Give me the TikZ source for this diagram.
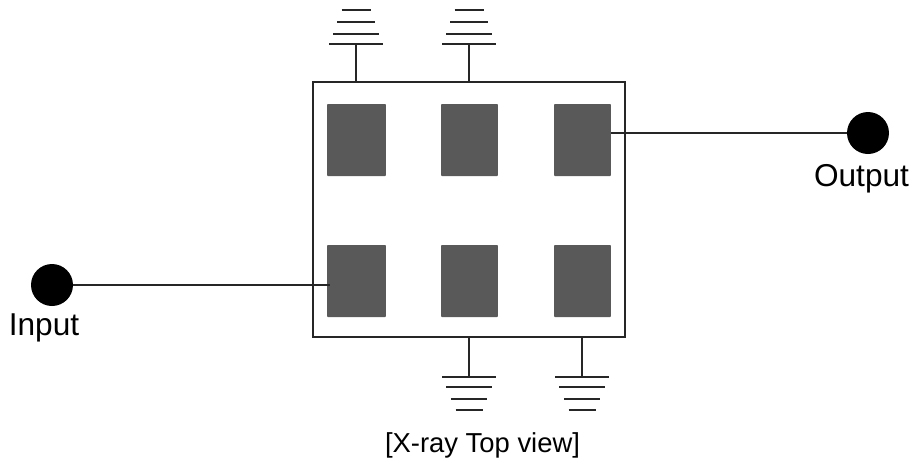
\documentclass[tikz,border=0pt]{standalone}
\usepackage{fontspec}
\setmainfont{Liberation Sans}
\usepackage{xcolor}
\usetikzlibrary{positioning}
\definecolor{padgray}{HTML}{595959}
\tikzset{%
	pad/.style={
		draw=none,
		fill=padgray,
		rounded corners=0.5pt,
		inner sep=0pt
	},
	port/.style={
		circle,
		fill=black,
		inner sep=0pt,
		minimum size=0.84cm
	},
	port text/.style={
		inner sep=0pt,
		font=\fontsize{18pt}{21pt}\selectfont
	},
	caption text/.style={
		inner sep=0pt,
		font=\fontsize{15.6pt}{18pt}\selectfont
	},
	wire/.style={
		line width=0.62pt,
		draw=black!85
	},
}

\begin{document}
\begin{tikzpicture}[x=0.02cm,y=-0.02cm]
		\useasboundingbox (0,0) rectangle (914,461);

		% Draw the package outline
		\node[wire,draw,inner sep=0pt,minimum width=6.24cm,minimum height=5.1cm] (chip) at (469,209.5) {};

		% Draw the pads
		\node[pad,minimum width=1.18cm,minimum height=1.44cm] (padA) at (356.5,140) {};
		\node[pad,minimum width=1.14cm,minimum height=1.44cm] (padB) at (469.5,140) {};
		\node[pad,minimum width=1.14cm,minimum height=1.44cm] (padC) at (582.5,140) {};
		\node[pad,minimum width=1.18cm,minimum height=1.44cm] (padD) at (356.5,281) {};
		\node[pad,minimum width=1.14cm,minimum height=1.44cm] (padE) at (469.5,281) {};
		\node[pad,minimum width=1.14cm,minimum height=1.44cm] (padF) at (582.5,281) {};

		% Draw the ports
		\node[port] (input) at (52,285) {};
		\node[port] (output) at (868,133) {};
		\node[port text] (inputlabel) at (44,328) {Input};
		\node[port text] (outputlabel) at (861.5,179) {Output};
		\node[caption text] (caption) at (482.5,445) {[X-ray Top view]};

		% Draw the wires
		\coordinate (inputend) at (330,285);
		\draw[wire] (input) -- (inputend);
		\coordinate (outputend) at (611,133);
		\draw[wire] (outputend) -- (output);

		% Draw the upper grounds
		\foreach \name/\gx in {gndA/356,gndB/469}{
			\coordinate (\name) at (\gx,44);
			\coordinate (\name top) at (\gx,82);
			\draw[wire] (\name top) -- (\name);
			\draw[wire] (\gx-27,44) -- (\gx+27,44);
			\draw[wire] (\gx-23,34) -- (\gx+23,34);
			\draw[wire] (\gx-19,22) -- (\gx+19,22);
			\draw[wire] (\gx-14.5,10) -- (\gx+14.5,10);
		}

		% Draw the lower grounds
		\foreach \name/\gx in {gndC/469,gndD/582}{
			\coordinate (\name) at (\gx,377);
			\coordinate (\name top) at (\gx,337);
			\draw[wire] (\name top) -- (\name);
			\draw[wire] (\gx-27,377) -- (\gx+27,377);
			\draw[wire] (\gx-23,387) -- (\gx+23,387);
			\draw[wire] (\gx-18,399) -- (\gx+18,399);
			\draw[wire] (\gx-13.5,410) -- (\gx+13.5,410);
		}
	\end{tikzpicture}
\end{document}
